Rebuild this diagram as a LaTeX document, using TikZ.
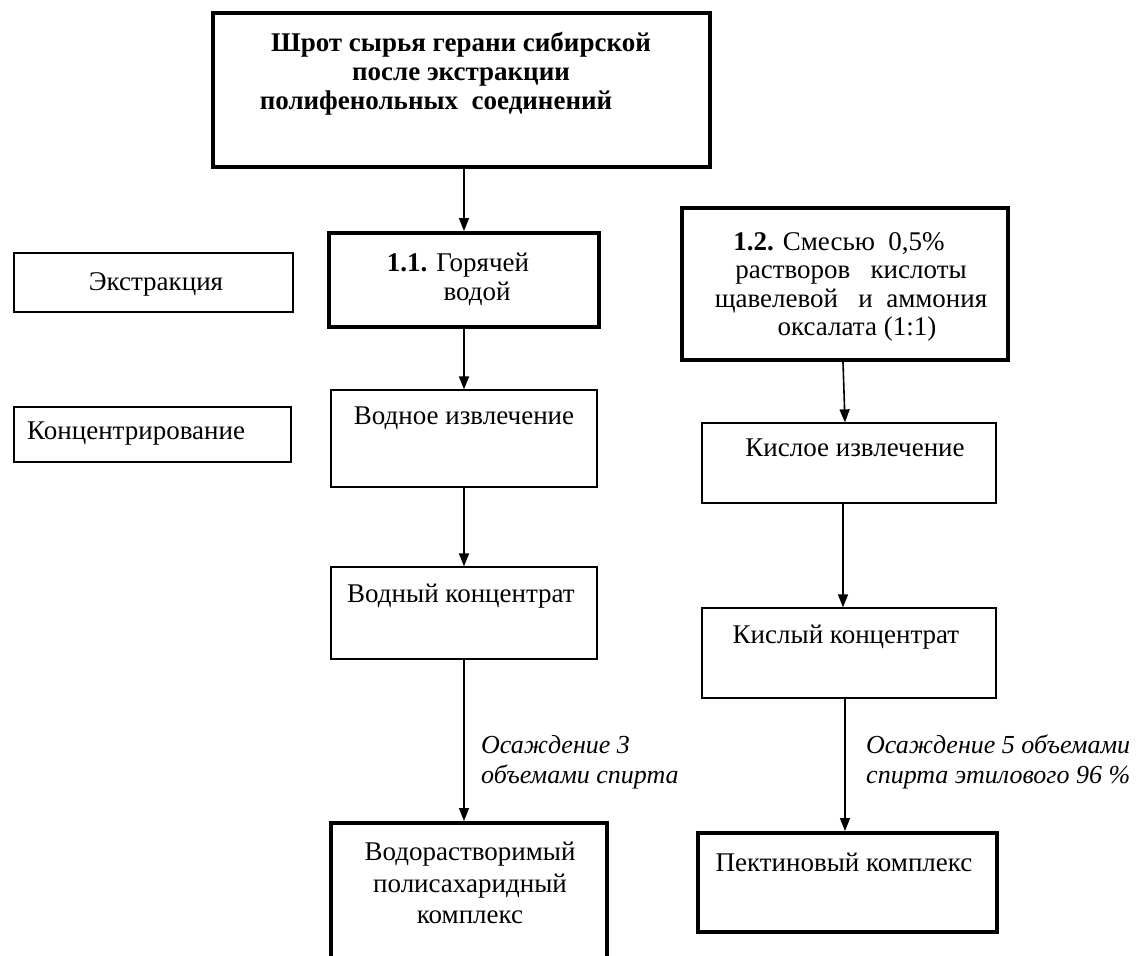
\documentclass[tikz,border=0pt]{standalone}
\usepackage{fontspec}
\setmainfont{Liberation Serif}
\usetikzlibrary{arrows.meta}
\tikzset{
  thinbox/.style={draw, line width=1.3pt, inner sep=0pt},
  thickbox/.style={draw, line width=4pt, inner sep=0pt},
  arr/.style={line width=1.6pt, -{Triangle[length=13pt,width=10pt]}},
  txt/.style={inner sep=0pt, align=center, anchor=north},
  lbl/.style={inner sep=0pt, align=left, anchor=north west, font=\fontsize{26}{30}\selectfont\itshape},
}
\begin{document}
\begin{tikzpicture}[x=1pt,y=-1pt, font=\fontsize{27}{28.5}\selectfont]
\useasboundingbox[fill=white] (0,0) rectangle (1141,956);

% boxes
\node[thickbox, minimum width=497, minimum height=154] (top) at (461.5,90) {};
\node[thickbox, minimum width=270, minimum height=94] (b11) at (464,280) {};
\node[thinbox, minimum width=279, minimum height=59] (ek) at (153.5,282.5) {};
\node[thinbox, minimum width=277, minimum height=55] (konc) at (152.5,434.5) {};
\node[thinbox, minimum width=266, minimum height=97] (vizv) at (464,438.5) {};
\node[thinbox, minimum width=266, minimum height=92] (vk) at (464,613) {};
\node[thickbox, minimum width=276, minimum height=177] (vr) at (469,911.5) {};
\node[thickbox, minimum width=326, minimum height=152] (b12) at (845,284) {};
\node[thinbox, minimum width=294, minimum height=80] (ki) at (849,463) {};
\node[thinbox, minimum width=294, minimum height=90] (kk) at (849,653) {};
\node[thickbox, minimum width=299, minimum height=99] (pk) at (847.5,882.5) {};

% texts
\node[txt, font=\fontsize{27}{29}\selectfont\bfseries] (topT) at (461,32)
  {Шрот сырья герани сибирской\\после экстракции\\полифенольных\ \ соединений\hspace*{50pt}};
\node[txt] (b11T) at (458,253) {\textbf{1.1.} Горячей\\\hspace*{38pt}водой};
\node[txt] (ekT) at (156,272) {Экстракция};
\node[txt, anchor=north west] (koncT) at (27,422) {Концентрирование};
\node[txt] (vizvT) at (464,407) {Водное извлечение};
\node[txt] (vkT) at (461,584) {Водный концентрат};
\node[txt] (b12T) at (851,232)
  {\textbf{1.2.} Смесью\ \ 0,5\%\hspace*{24pt}\\растворов\ \ \ кислоты\hspace*{10pt}\\щавелевой\ \ \ и\ \ аммония\\\hspace*{12pt}оксалата (1:1)};
\node[txt] (kiT) at (855,439) {Кислое извлечение};
\node[txt] (kkT) at (846,625) {Кислый концентрат};
\node[txt, font=\fontsize{27}{31.5}\selectfont] (vrT) at (470,842) {Водорастворимый\\полисахаридный\\комплекс};
\node[txt] (pkT) at (844,853) {Пектиновый комплекс};
\node[lbl] (l1) at (481,735) {Осаждение 3\\объемами спирта};
\node[lbl] (l2) at (866,735) {Осаждение 5 объемами\\спирта этилового 96 \%};

% arrows
\draw[arr] (b11.north |- top.south) -- (b11.north);
\draw[arr] (b11.south) -- (vizv.north);
\draw[arr] (vizv.south) -- (vk.north);
\draw[arr] (vk.south) -- (vk.south |- vr.north);
\draw[arr] ([xshift=-2pt]b12.south) -- ([xshift=-4pt]ki.north);
\draw[arr] ([xshift=-6pt]ki.south) -- ([xshift=-6pt]kk.north);
\draw[arr] ([xshift=-4pt]kk.south) -- ([xshift=-2.5pt]pk.north);
\end{tikzpicture}
\end{document}
